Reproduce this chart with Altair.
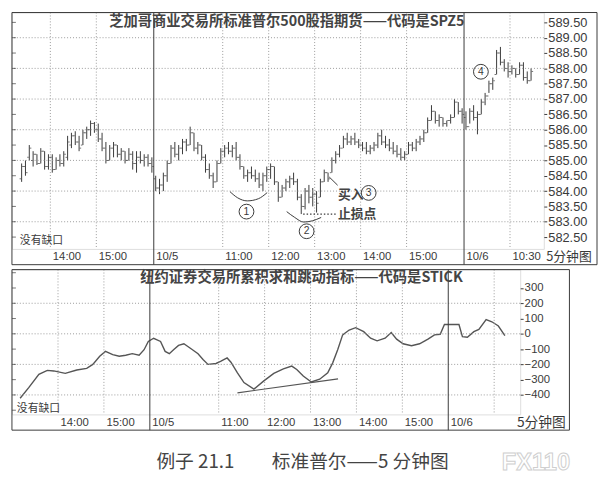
import json
import altair as alt
import pandas as pd

CJK = "Noto Sans CJK SC"
LAT = "Liberation Sans"
INK = "#3a3a3a"
GRID = "#9a9a9a"

# ---------------- top panel: S&P 500 futures SPZ5, 5-minute OHLC ----------------
# bar number = 5-minute slot counted from 13:00 on 10/4 (gaps between sessions removed)
bar_no = list(range(4, 138))

highs_d1 = [584.9, 585.0, 585.5, 585.3, 585.2, 585.4, 585.3, 585.2, 585.2, 585.1, 585.2, 585.3,
            585.8, 585.9, 585.95, 585.8, 586.0, 586.1, 586.3, 586.25, 586.2, 585.9, 585.6, 585.5,
            585.6, 585.5, 585.4, 585.3, 585.4, 585.3, 585.3, 585.3, 585.2, 585.2, 585.1]
lows_d1 = [584.3, 584.5, 585.0, 584.8, 584.85, 584.9, 584.7, 584.7, 584.6, 584.7, 584.8, 584.8,
           585.0, 585.4, 585.5, 585.3, 585.5, 585.7, 585.8, 585.9, 585.6, 585.3, 584.9, 585.0,
           585.1, 585.1, 585.0, 584.9, 585.0, 584.7, 584.6, 584.9, 584.8, 584.8, 584.6]
opens_d1 = [584.4, 584.8, 585.1, 585.0, 585.2, 584.9, 585.3, 584.8, 585.1, 584.7, 585.0, 584.9,
            585.1, 585.5, 585.8, 585.6, 585.5, 585.9, 586.0, 586.2, 586.0, 585.7, 585.4, 585.0,
            585.4, 585.5, 585.2, 585.3, 585.0, 585.2, 584.9, 585.1, 585.0, 585.1, 584.9]
closes_d1 = [584.8, 584.6, 585.4, 585.2, 584.9, 585.3, 584.8, 585.1, 584.7, 585.0, 584.9, 585.2,
             585.6, 585.8, 585.6, 585.4, 585.9, 586.0, 586.2, 586.0, 585.7, 585.4, 585.0, 585.4,
             585.5, 585.2, 585.3, 585.0, 585.2, 584.9, 585.1, 585.0, 585.1, 584.9, 584.8]

highs_d2 = [584.5, 584.4, 584.6, 585.0, 585.5, 585.6, 585.5, 585.7, 585.7, 586.1,
            585.9, 585.6, 585.5, 585.2, 584.9, 584.6, 585.0, 585.4, 585.5, 585.6,
            585.5, 585.6, 585.2, 584.8, 584.7, 584.8, 584.7, 584.6, 584.6, 584.8,
            584.9, 584.8, 584.3, 584.2, 584.4, 584.5, 584.6, 584.4, 583.9, 584.1,
            584.2, 584.1, 584.0, 584.4, 584.7, 584.6, 585.1, 585.3, 585.5, 585.8,
            585.9, 585.8, 585.9, 585.7, 585.6, 585.6, 585.5, 585.6, 585.9, 586.0,
            585.8, 585.7, 585.6, 585.5, 585.4, 585.3, 585.6, 585.6, 585.7, 585.8,
            586.0, 586.4, 586.8, 586.6, 586.5, 586.4, 586.3, 586.5, 587.0, 586.9, 586.7]
lows_d2 = [584.0, 583.9, 584.0, 584.3, 584.9, 585.1, 585.0, 585.2, 585.3, 585.5,
           585.3, 585.2, 585.0, 584.6, 584.4, 584.1, 584.3, 584.9, 585.1, 585.2,
           585.1, 585.0, 584.7, 584.4, 584.3, 584.4, 584.3, 584.1, 584.0, 584.3,
           584.4, 584.2, 583.65, 583.8, 584.0, 584.1, 584.2, 583.7, 583.25, 583.4,
           583.6, 583.5, 583.3, 583.8, 584.3, 584.3, 584.6, 584.9, 585.1, 585.4,
           585.5, 585.5, 585.5, 585.4, 585.3, 585.2, 585.2, 585.3, 585.4, 585.5,
           585.4, 585.3, 585.2, 585.1, 585.0, 585.0, 585.2, 585.3, 585.3, 585.5,
           585.6, 585.9, 586.3, 586.2, 586.1, 586.1, 586.1, 586.2, 586.4, 586.5, 586.2]
opens_d2 = [584.4, 584.1, 584.2, 584.5, 584.9, 585.4, 585.2, 585.4, 585.6, 585.5,
            585.9, 585.4, 585.5, 585.1, 584.7, 584.5, 584.3, 584.9, 585.3, 585.4,
            585.3, 585.4, 585.1, 584.8, 584.5, 584.6, 584.5, 584.4, 584.2, 584.5,
            584.7, 584.8, 584.3, 583.8, 584.1, 584.3, 584.4, 584.3, 583.8, 583.5,
            584.0, 583.8, 583.9, 583.8, 584.3, 584.6, 584.6, 585.0, 585.2, 585.4,
            585.7, 585.6, 585.7, 585.6, 585.5, 585.4, 585.3, 585.4, 585.5, 585.8,
            585.6, 585.5, 585.4, 585.3, 585.2, 585.1, 585.2, 585.5, 585.4, 585.6,
            585.7, 585.9, 586.3, 586.6, 586.3, 586.4, 586.2, 586.3, 586.4, 586.9, 586.6]
closes_d2 = [584.1, 584.2, 584.5, 584.9, 585.4, 585.2, 585.4, 585.6, 585.5, 585.9,
             585.4, 585.5, 585.1, 584.7, 584.5, 584.3, 584.9, 585.3, 585.4, 585.3,
             585.4, 585.1, 584.8, 584.5, 584.6, 584.5, 584.4, 584.2, 584.5, 584.7,
             584.8, 584.3, 583.8, 584.1, 584.3, 584.4, 584.3, 583.8, 583.5, 584.0,
             583.8, 583.9, 583.6, 584.3, 584.6, 584.4, 585.0, 585.2, 585.4, 585.7,
             585.6, 585.7, 585.6, 585.5, 585.4, 585.3, 585.4, 585.5, 585.8, 585.6,
             585.5, 585.4, 585.3, 585.2, 585.1, 585.2, 585.5, 585.4, 585.6, 585.7,
             585.9, 586.3, 586.6, 586.3, 586.4, 586.2, 586.3, 586.4, 586.9, 586.6, 586.5]

highs_d3 = [586.6, 586.7, 586.8, 586.6, 587.0, 587.2, 587.6, 587.7, 588.6, 588.7, 588.3, 588.2,
            588.1, 588.0, 588.2, 588.2, 587.9, 588.0]
lows_d3 = [586.0, 586.2, 586.3, 585.85, 586.5, 586.8, 587.2, 587.3, 587.8, 588.1, 587.9, 587.7,
           587.8, 587.7, 587.8, 587.6, 587.5, 587.6]
opens_d3 = [586.4, 586.1, 586.6, 586.4, 586.5, 586.9, 587.1, 587.5, 587.8, 588.5, 588.2, 588.0,
            587.9, 588.0, 587.8, 588.1, 587.7, 587.6]
closes_d3 = [586.1, 586.6, 586.4, 586.5, 586.9, 587.1, 587.5, 587.6, 588.5, 588.2, 588.0, 587.9,
             588.0, 587.8, 588.1, 587.7, 587.6, 587.9]

top_price_ticks = [582.5, 583.0, 583.5, 584.0, 584.5, 585.0, 585.5, 586.0, 586.5, 587.0,
                   587.5, 588.0, 588.5, 589.0, 589.5]
top_grid_prices = [583.0, 584.0, 585.0, 586.0, 587.0, 588.0, 589.0]
top_label_pos = [11.5, 23.5, 38.5, 56.5, 68.5, 80.5, 92.5, 104.5, 119.5, 131.5]
top_labels = ["14:00", "15:00", "10/5", "11:00", "12:00", "13:00", "14:00", "15:00", "10/6", "10:30"]
top_hour_lines = [11.5, 23.5, 56.5, 68.5, 80.5, 92.5, 104.5, 131.5]
top_day_lines = [38.5, 119.5]

# annotations (in bar / price units)
circle_bar = [62.7, 78.4, 94.6, 123.9]
circle_price = [583.33, 582.69, 583.94, 587.89]
circle_num = ["1", "2", "3", "4"]
arc_id = ["a1"] * 5 + ["a2"] * 5
arc_bar = [58.4, 60.4, 62.9, 65.8, 68.1, 73.2, 75.3, 77.6, 79.9, 82.2]
arc_price = [583.98, 583.78, 583.68, 583.75, 583.95, 583.33, 583.14, 582.99, 583.03, 583.14]
stop_bar = [77.5, 86.1]
stop_price = [583.25, 583.25]
pointer_bar = [84.3, 86.5]
pointer_price = [584.46, 584.19]
note_bar = [86.6, 86.6]
note_price = [583.87, 583.25]
note_text = ["买入", "止损点"]

# ---------------- bottom panel: NYSE cumulative TICK (STICK) ----------------
stick_bar = [1.6, 3.9, 6.5, 8.7, 10.4, 13.4, 16.4, 19.0, 20.6, 22.4, 23.9, 25.8, 27.5, 29.2, 30.9,
             32.7, 34.0, 35.1, 36.5, 38.3, 39.5, 40.6, 41.7, 43.0, 44.4, 46.0, 48.1, 49.4, 50.7,
             52.8, 54.1, 55.7, 56.7, 58.4, 60.1, 62.7, 65.3, 67.9, 70.4, 72.6, 73.9, 75.6, 77.7,
             79.9, 82.0, 83.3, 84.6, 85.9, 87.6, 89.3, 91.4, 93.2, 94.9, 97.0, 98.6, 100.0, 101.7,
             103.9, 106.0, 108.2, 109.9, 111.4, 112.5, 114.2, 116.3, 117.2, 118.5, 120.2, 121.5,
             123.4, 124.9, 126.6, 128.3]
stick_val = [-422, -351, -265, -239, -243, -259, -237, -226, -200, -147, -115, -136, -147, -140,
             -130, -140, -104, -50, -29, -50, -115, -130, -104, -76, -65, -93, -130, -168, -200,
             -194, -179, -158, -186, -255, -319, -362, -308, -259, -229, -211, -233, -276, -315,
             -297, -255, -190, -104, -7, 25, 40, 14, -29, -46, -29, 8, -35, -65, -78, -65, -35,
             -7, -3, 61, 61, 61, -18, -22, 14, 29, 93, 79, 51, -12]
trend_bar = [58.4, 84.7]
trend_val = [-386, -295]

bot_val_ticks = [-400, -300, -200, -100, 0, 100, 200, 300]
bot_minor_ticks = [-500, -400, -300, -200, -100, 0, 100, 200, 300, 400]
bot_grid_vals = [-400, -200, 0, 200]
bot_label_pos = [11.5, 23.5, 35.5, 53.5, 65.5, 77.5, 89.5, 101.5, 113.5]
bot_labels = ["14:00", "15:00", "10/5", "11:00", "12:00", "13:00", "14:00", "15:00", "10/6"]
bot_hour_lines = [11.5, 23.5, 53.5, 65.5, 77.5, 89.5, 101.5, 125.5]
bot_day_lines = [35.5, 113.5]

TOP_TITLE = "芝加哥商业交易所标准普尔500股指期货——代码是SPZ5"
BOT_TITLE = "纽约证券交易所累积求和跳动指标——代码是STICK"
NO_GAP = "没有缺口"
CAPTION = "例子 21.1　　标准普尔——5 分钟图"
UNIT = "5分钟图"

# ---------------- build ----------------
W1, H1 = 540, 240
W2, H2 = 516, 147
STRIP = 16

xs1 = alt.Scale(domain=[1.47, 140.33], nice=False, zero=False)
ys1 = alt.Scale(domain=[582.114, 589.821], nice=False, zero=False)
xs2 = alt.Scale(domain=[-0.54, 132.3], nice=False, zero=False)
ys2 = alt.Scale(domain=[-527.4, 420.4], nice=False, zero=False)


def label_expr(pos, labs):
    return f"{json.dumps(labs)}[indexof({json.dumps(pos)}, datum.value)]"


def x_axis(pos, labs, title_x, title_size):
    return alt.Axis(values=pos, labelExpr=label_expr(pos, labs), domain=False, ticks=False,
                    tickSize=0, grid=False, labelAlign="left", labelBaseline="middle",
                    labelPadding=8, labelOffset=2, labelFlush=False, labelOverlap=False,
                    labelFont=LAT, labelFontSize=11.5, labelColor=INK,
                    title=UNIT, titleFont=CJK, titleFontSize=title_size, titleFontWeight="normal",
                    titleColor=INK, titleX=title_x, titleY=8, titleAlign="center",
                    titleBaseline="middle")


def y_axis(vals, fmt, size):
    return alt.Axis(orient="right", values=vals, format=fmt, domain=False, grid=False,
                    tickSize=3, tickColor=INK, labelPadding=1, labelFlush=False,
                    labelOverlap=False, labelFont=LAT, labelFontSize=size, labelColor=INK,
                    title=None)


XA1 = x_axis(top_label_pos, top_labels, 565, 13)
YA1 = y_axis(top_price_ticks, ".2f", 13)
XA2 = x_axis(bot_label_pos, bot_labels, 537, 14)
YA2 = y_axis(bot_val_ticks, "d", 11.5)

one = pd.DataFrame({"panel": ["p"]})

top_df = pd.DataFrame({
    "bar": bar_no,
    "open": opens_d1 + opens_d2 + opens_d3,
    "high": highs_d1 + highs_d2 + highs_d3,
    "low": lows_d1 + lows_d2 + lows_d3,
    "close": closes_d1 + closes_d2 + closes_d3,
})


def X(field, xs, xa):
    return alt.X(field, scale=xs, axis=xa, title=UNIT)


def Y(field, ys, ya):
    return alt.Y(field, scale=ys, axis=ya, title=None)


def grid_layers(xs, ys, xa, ya, hvals, hours, days, H, minor):
    hg = alt.Chart(pd.DataFrame({"v": hvals})).mark_rule(
        color=GRID, strokeDash=[1, 2], strokeWidth=1).encode(y=Y("v:Q", ys, ya))
    vg = alt.Chart(pd.DataFrame({"p": hours})).mark_rule(
        color=GRID, strokeDash=[1, 2], strokeWidth=1).encode(x=X("p:Q", xs, xa))
    dl = alt.Chart(pd.DataFrame({"p": days})).mark_rule(
        color=INK, strokeWidth=1).encode(
        x=X("p:Q", xs, xa), y=alt.value(0), y2=alt.value(H + STRIP))
    mt = alt.Chart(pd.DataFrame({"v": minor})).mark_tick(
        orient="horizontal", size=4, thickness=1, color=INK).encode(
        x=alt.value(2), y=Y("v:Q", ys, ya))
    return [hg, vg, dl, mt]


def frame(W_total, H):
    return alt.Chart(one).mark_rect(fillOpacity=0, stroke=INK, strokeWidth=1).encode(
        x=alt.value(0), x2=alt.value(W_total), y=alt.value(0), y2=alt.value(H + STRIP))


def text_at(txt, x, y, size, font=CJK, weight="normal", align="left", color=INK, **kw):
    return alt.Chart(one).mark_text(text=txt, font=font, fontSize=size, fontWeight=weight,
                                    align=align, baseline="middle", color=color, **kw).encode(
        x=alt.value(x), y=alt.value(y))


# --- top layers
bars = alt.Chart(top_df).mark_rule(color=INK, strokeWidth=1).encode(
    x=X("bar:Q", xs1, XA1), y=Y("low:Q", ys1, YA1), y2="high:Q")
open_t = alt.Chart(top_df).mark_tick(orient="horizontal", size=1.6, thickness=1,
                                     xOffset=-1.3, color=INK).encode(
    x=X("bar:Q", xs1, XA1), y=Y("open:Q", ys1, YA1))
close_t = alt.Chart(top_df).mark_tick(orient="horizontal", size=1.6, thickness=1,
                                      xOffset=1.3, color=INK).encode(
    x=X("bar:Q", xs1, XA1), y=Y("close:Q", ys1, YA1))

circ_df = pd.DataFrame({"bar": circle_bar, "price": circle_price, "num": circle_num})
circles = alt.Chart(circ_df).mark_point(shape="circle", size=225, filled=False, color=INK,
                                        strokeWidth=1, opacity=1).encode(
    x=X("bar:Q", xs1, XA1), y=Y("price:Q", ys1, YA1))
circ_num = alt.Chart(circ_df).mark_text(font=LAT, fontSize=10.5, color=INK).encode(
    x=X("bar:Q", xs1, XA1), y=Y("price:Q", ys1, YA1), text="num:N")
arcs = alt.Chart(pd.DataFrame({"arc": arc_id, "bar": arc_bar, "price": arc_price})).mark_line(
    color=INK, strokeWidth=1, interpolate="monotone").encode(
    x=X("bar:Q", xs1, XA1), y=Y("price:Q", ys1, YA1), detail="arc:N")
stop_line = alt.Chart(pd.DataFrame({"bar": stop_bar, "price": stop_price})).mark_line(
    color=INK, strokeWidth=1.3, strokeDash=[1.5, 2]).encode(
    x=X("bar:Q", xs1, XA1), y=Y("price:Q", ys1, YA1))
pointer = alt.Chart(pd.DataFrame({"bar": pointer_bar, "price": pointer_price})).mark_line(
    color=INK, strokeWidth=1).encode(
    x=X("bar:Q", xs1, XA1), y=Y("price:Q", ys1, YA1))
notes = alt.Chart(pd.DataFrame({"bar": note_bar, "price": note_price, "t": note_text})).mark_text(
    font=CJK, fontSize=13, fontWeight="bold", color="#444", align="left", baseline="middle").encode(
    x=X("bar:Q", xs1, XA1), y=Y("price:Q", ys1, YA1), text="t:N")

top = alt.layer(
    bars,
    *grid_layers(xs1, ys1, XA1, YA1, top_grid_prices, top_hour_lines, top_day_lines, H1,
                 top_price_ticks),
    frame(594, H1),
    open_t, close_t, arcs, stop_line, pointer, circles, circ_num, notes,
    text_at(TOP_TITLE, 279, 10, 14.5, weight="bold", align="center", color="#444"),
    text_at(NO_GAP, 8, H1 - 8, 11),
).properties(width=W1, height=H1)

# --- bottom layers
stick = alt.Chart(pd.DataFrame({"bar": stick_bar, "v": stick_val})).mark_line(
    color="#555", strokeWidth=1.4).encode(x=X("bar:Q", xs2, XA2), y=Y("v:Q", ys2, YA2))
trend = alt.Chart(pd.DataFrame({"bar": trend_bar, "v": trend_val})).mark_line(
    color="#555", strokeWidth=1.2).encode(x=X("bar:Q", xs2, XA2), y=Y("v:Q", ys2, YA2))

bottom = alt.layer(
    stick,
    *grid_layers(xs2, ys2, XA2, YA2, bot_grid_vals, bot_hour_lines, bot_day_lines, H2,
                 bot_minor_ticks),
    frame(566, H2),
    trend,
    text_at(BOT_TITLE, 294, 9, 14.5, weight="bold", align="center", color="#444"),
    text_at(NO_GAP, 5, H2 - 5, 11),
    text_at(CAPTION, 295, 195, 19, align="center", color="#444"),
    text_at("FX110", 532, 196, 24, font=LAT, weight="bold", align="center", color="#ffffff",
            stroke="#cfcfcf", strokeWidth=1),
).properties(width=W2, height=H2)

chart = alt.vconcat(top, bottom, spacing=3).properties(
    padding={"left": 3, "top": 0, "right": 0, "bottom": 0}
).configure_view(stroke=INK, strokeWidth=1).configure(background="white")

chart.save("out.html", embed_options={"renderer": "svg", "actions": False})
